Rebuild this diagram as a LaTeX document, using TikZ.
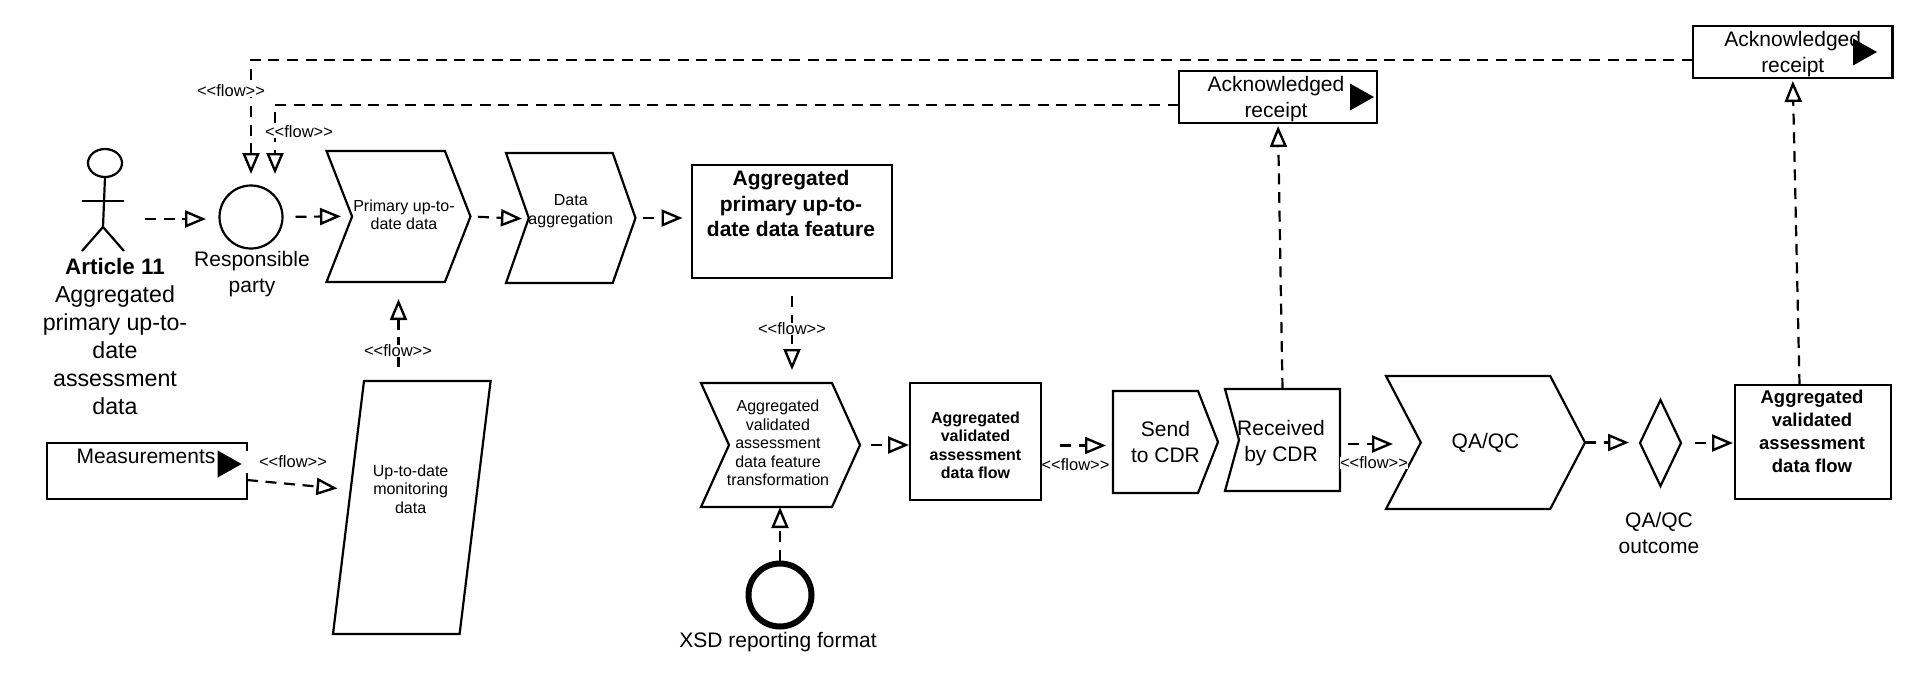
\documentclass[tikz,border=0pt]{standalone}
\usepackage{fontspec}
\setmainfont{Liberation Sans}
\usepackage{tikz}
\usetikzlibrary{arrows.meta,shapes.geometric}

\newcommand{\flowtext}{<\kern0pt<flow>\kern0pt>}

\tikzset{
  shapeline/.style={line width=1.1pt, line join=miter},
  basenode/.style={inner sep=0pt, outer sep=0pt, align=center},
  txtsmall/.style={font=\fontsize{8}{9.25}\selectfont},
  txtmid/.style={font=\fontsize{10.5}{13}\selectfont},
  boldsmall/.style={font=\fontsize{8}{9.25}\selectfont\bfseries},
  boldbig/.style={font=\fontsize{10.5}{12.75}\selectfont\bfseries},
  boldmid/.style={font=\fontsize{9.25}{11.5}\selectfont\bfseries},
  boxnode/.style={basenode, rectangle, draw, shapeline},
  chevron/.style={basenode, rectangle, append after command={\pgfextra{
    \draw[shapeline] (\tikzlastnode.north west) -- ([xshift=-#1]\tikzlastnode.north east)
      -- (\tikzlastnode.east) -- ([xshift=-#1]\tikzlastnode.south east)
      -- (\tikzlastnode.south west) -- ([xshift=#1]\tikzlastnode.west) -- cycle;}}},
  pointed/.style={basenode, rectangle, append after command={\pgfextra{
    \draw[shapeline] (\tikzlastnode.north west) -- ([xshift=-#1]\tikzlastnode.north east)
      -- (\tikzlastnode.east) -- ([xshift=-#1]\tikzlastnode.south east)
      -- (\tikzlastnode.south west) -- cycle;}}},
  notched/.style={basenode, rectangle, append after command={\pgfextra{
    \draw[shapeline] (\tikzlastnode.north west) -- (\tikzlastnode.north east)
      -- (\tikzlastnode.south east) -- (\tikzlastnode.south west)
      -- ([xshift=#1]\tikzlastnode.west) -- cycle;}}},
  slanted/.style={basenode, rectangle, append after command={\pgfextra{
    \draw[shapeline] ([xshift=#1]\tikzlastnode.north west) -- (\tikzlastnode.north east)
      -- ([xshift=-#1]\tikzlastnode.south east) -- (\tikzlastnode.south west) -- cycle;}}},
  sendbox/.style 2 args={boxnode, append after command={\pgfextra{
    \fill ([shift={(-#1-12pt,#2+6.75pt)}]\tikzlastnode.east) -- ([shift={(-#1,#2)}]\tikzlastnode.east)
      -- ([shift={(-#1-12pt,#2-6.75pt)}]\tikzlastnode.east) -- cycle;}}},
  flow/.style={line width=1.1pt, dash pattern=on 5.5pt off 3.8pt,
    -{Triangle[open, length=10.5pt, width=8.5pt, line width=1.2pt]}},
  flowtag/.style={basenode, fill=white, font=\fontsize{8.25}{10}\selectfont},
}

\begin{document}
\begin{tikzpicture}[x=0.5pt, y=-0.5pt]

\useasboundingbox (0,0) rectangle (1917,675);

% actor and the party
\node[basenode, minimum width=21pt, minimum height=51pt] (actor) at (103,200) {};
\begin{scope}[shift={(actor.center)}, shapeline]
  \draw (2,-37) ellipse (17 and 14);
  \draw (2,-23) -- (0,27);
  \draw (-21,1) -- (21,1);
  \draw (-21,51) -- (0,27) -- (21,51);
\end{scope}
\node[basenode, font=\fontsize{11.6}{14}\selectfont] (actortxt) at (115,336)
  {{\bfseries\fontsize{11.2}{14}\selectfont Article 11}\\Aggregated\\primary up-to-\\date\\assessment\\data};

\node[basenode, circle, draw, shapeline, minimum size=31.5pt] (resp) at (251,217) {};
\node[basenode, txtmid] (resptxt) at (252,274) {Responsible\\party};

% top row
\node[chevron=12.8pt, minimum width=72pt, minimum height=65.5pt] (prim) at (398.5,216.5) {};
\node[basenode, txtsmall, xshift=2.75pt, yshift=0.75pt] (primtxt) at (prim) {Primary up-to-\\date data};
\node[chevron=11.4pt, minimum width=64.75pt, minimum height=65pt] (aggr) at (570.75,218) {};
\node[basenode, txtsmall, yshift=3.5pt] (aggrtxt) at (aggr) {Data\\aggregation};
\node[boxnode, minimum width=100pt, minimum height=56.5pt] (feat) at (792,221.5) {};
\node[basenode, boldbig, xshift=-0.5pt, yshift=9pt] (feattxt) at (feat) {Aggregated\\primary up-to-\\date data feature};

% left column
\node[sendbox={2.7pt}{3.5pt}, minimum width=100pt, minimum height=28pt] (meas) at (147,471) {};
\node[basenode, txtmid, xshift=-0.5pt, yshift=7.5pt] (meastxt) at (meas) {Measurements};
\node[slanted=15.5pt, minimum width=78.8pt, minimum height=126.5pt] (uptd) at (411.8,507.5) {};
\node[basenode, txtsmall, xshift=-0.6pt, yshift=9.25pt] (uptdtxt) at (uptd) {Up-to-date\\monitoring\\data};

% lower row
\node[chevron=14pt, minimum width=79.5pt, minimum height=62pt] (trans) at (780.5,445) {};
\node[basenode, txtsmall, xshift=-1.25pt, yshift=1pt] (transtxt) at (trans) {Aggregated\\validated\\assessment\\data feature\\transformation};
\node[boxnode, minimum width=65.5pt, minimum height=58.5pt] (flowa) at (975.5,441.5) {};
\node[basenode, boldsmall, yshift=-2pt] (flowatxt) at (flowa) {Aggregated\\validated\\assessment\\data flow};
\node[pointed=10pt, txtmid, minimum width=52.5pt, minimum height=51pt] (send) at (1165.5,442)
  {Send\\to CDR};
\node[notched=7pt, minimum width=57.5pt, minimum height=51pt] (recv) at (1282.5,440) {};
\node[basenode, txtmid, xshift=-0.75pt, yshift=-1.75pt] (recvtxt) at (recv) {Received\\by CDR};
\node[chevron=17.4pt, txtmid, minimum width=99.5pt, minimum height=66.5pt] (qaqc) at (1485.5,442.5)
  {QA/QC};
\node[basenode, diamond, draw, shapeline, aspect=0.48, minimum width=20.5pt, minimum height=43pt] (gate) at (1660.5,443) {};
\node[basenode, txtmid] (gatetxt) at (1659,532.5) {QA/QC\\outcome};
\node[boxnode, minimum width=78pt, minimum height=57pt] (flowb) at (1813,442) {};
\node[basenode, boldmid, xshift=-0.5pt, yshift=5.25pt] (flowbtxt) at (flowb) {Aggregated\\validated\\assessment\\data flow};

\node[basenode, circle, draw, line width=3pt, minimum size=31.5pt] (xsd) at (780,595) {};
\node[basenode, txtmid] (xsdtxt) at (778,642) {XSD reporting format};

% receipts
\node[sendbox={1.5pt}{0pt}, minimum width=99pt, minimum height=26pt] (acka) at (1278,97) {};
\node[basenode, txtmid, xshift=-1pt, yshift=-1.25pt] (ackatxt) at (acka) {Acknowledged\\receipt};
\node[sendbox={7.75pt}{0pt}, minimum width=99.75pt, minimum height=26pt] (ackb) at (1792.75,52) {};
\node[basenode, txtmid, yshift=-1.25pt] (ackbtxt) at (ackb) {Acknowledged\\receipt};

% connectors
\draw[flow, shorten <=10.5pt, shorten >=6.75pt] ([yshift=-9.5pt]actor.east) -- ([yshift=-9.5pt]actor.east -| resp.west);
\draw[flow, shorten <=6.5pt, shorten >=-7.25pt] (resp.east) -- (prim.west);
\draw[flow, shorten <=3.7pt, shorten >=-8pt] (prim.east) -- (aggr.west);
\draw[flow, shorten <=3.75pt, shorten >=4.75pt] (aggr.east) -- (aggr.east -| feat.west);
\draw[flow, shorten <=9pt, shorten >=6.5pt] (feat.south) -- (feat.south |- trans.north);
\draw[flow, shorten >=-2.25pt] ([yshift=-4.5pt]meas.east) -- ([yshift=9.75pt]uptd.west);
\draw[flow, shorten <=7pt, shorten >=8.5pt] (prim.south |- uptd.north) -- (prim.south);
\draw[flow, shorten <=5.5pt, shorten >=0.5pt] (trans.east) -- (trans.east -| flowa.west);
\draw[flow, shorten <=1.5pt] (xsd.north) -- (xsd.north |- trans.south);
\draw[flow, shorten <=9.5pt, shorten >=3.5pt] ([yshift=-2pt]flowa.east) -- ([yshift=-2pt]flowa.east -| send.west);
\draw[flow, shorten <=4pt, shorten >=-3.5pt] ([yshift=-2pt]recv.east) -- ([yshift=-2pt]recv.east -| qaqc.west);
\draw[flow, shorten >=5.5pt] (qaqc.east) -- (qaqc.east -| gate.west);
\draw[flow, shorten <=7pt, shorten >=1pt] (gate.east) -- (gate.east -| flowb.west);
\draw[flow, shorten >=1.5pt] (recv.north) -- (acka.south);
\draw[flow, shorten >=1.5pt] ([xshift=-6.75pt]flowb.north) -- (ackb.south);
\draw[flow, shorten >=5.75pt] ([yshift=-4pt]ackb.west) -| (resp.north);
\draw[flow, shorten >=5.75pt] ([yshift=-4pt]acka.west) -| ([xshift=12pt]resp.north);

% flow labels
\node[flowtag] (tagtop) at (231,91) {\flowtext};
\node[flowtag] (tagsec) at (299,132) {\flowtext};
\node[flowtag] (tagup) at (398,351) {\flowtext};
\node[flowtag, inner xsep=6.7pt, minimum height=11pt] (tagmeas) at (293,462) {\flowtext};
\node[flowtag] (tagfeat) at (792,329) {\flowtext};
\node[flowtag] (tagsend) at (1075.5,465) {\flowtext};
\node[flowtag] (tagqa) at (1374,463) {\flowtext};

\end{tikzpicture}
\end{document}
